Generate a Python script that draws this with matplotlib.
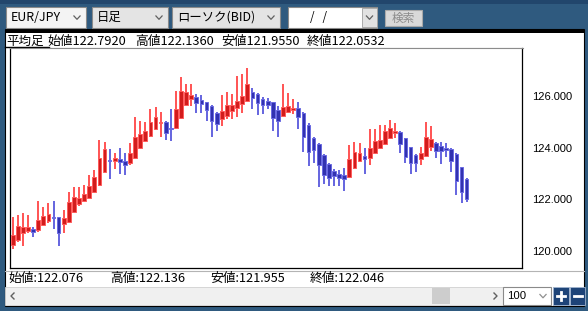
import matplotlib
matplotlib.use("Agg")
import matplotlib.pyplot as plt
from matplotlib.patches import Rectangle

# ---------------- data (heikin-ashi daily candles, EUR/JPY) ----------------
opens = [120.23, 120.43, 120.69, 120.79, 120.86, 120.81, 121.01, 121.17, 121.30, 121.33,
         121.04, 121.13, 121.52, 121.82, 121.95, 122.06, 122.29, 122.56, 123.07, 123.51,
         123.48, 123.55, 123.50, 123.42, 123.59, 124.00, 124.26, 124.45, 124.71, 124.94,
         124.98, 124.77, 124.75, 125.14, 125.65, 125.90, 125.96, 125.85, 125.77, 125.63,
         125.33, 125.10, 125.24, 125.43, 125.55, 125.68, 125.82, 126.15, 126.07, 125.88,
         125.81, 125.76, 125.46, 125.23, 125.39, 125.47, 125.52, 125.35, 124.89, 124.36,
         124.14, 123.73, 123.36, 123.11, 122.98, 122.93, 122.85, 123.20, 123.50, 123.68,
         123.61, 123.78, 124.00, 124.14, 124.36, 124.56, 124.62, 124.36, 124.01, 123.70,
         123.55, 123.68, 124.04, 124.19, 124.06, 123.98, 123.96, 123.75, 123.24, 122.79]
highs = [121.33, 121.39, 121.46, 121.39, 120.94, 121.94, 121.72, 121.87, 121.94, 121.33,
         121.59, 122.29, 122.47, 122.47, 122.56, 122.94, 123.14, 124.29, 124.23, 123.94,
         123.78, 123.98, 123.78, 124.17, 125.20, 125.04, 125.01, 125.50, 125.59, 125.39,
         125.04, 125.50, 126.19, 126.75, 126.47, 126.47, 126.08, 126.04, 125.78, 125.65,
         125.37, 126.04, 126.14, 126.08, 126.77, 126.84, 127.07, 126.32, 126.11, 125.97,
         125.94, 125.78, 125.62, 126.47, 126.11, 125.88, 125.76, 125.37, 124.94, 124.40,
         124.17, 123.76, 123.40, 123.16, 123.14, 123.20, 124.10, 124.23, 124.19, 123.98,
         124.71, 124.72, 124.88, 124.88, 125.07, 124.94, 124.65, 124.39, 124.04, 123.74,
         124.04, 124.99, 124.84, 124.23, 124.21, 124.18, 123.99, 123.78, 123.26, 122.81]
lows = [120.07, 120.36, 120.21, 120.71, 120.55, 120.75, 120.97, 121.10, 120.85, 120.21,
        120.71, 121.10, 121.46, 121.74, 121.90, 122.04, 122.26, 122.53, 123.01, 122.80,
        123.19, 122.97, 122.95, 123.32, 123.55, 123.95, 124.23, 124.43, 124.68, 124.43,
        124.30, 124.26, 124.71, 125.10, 125.61, 125.62, 125.33, 125.35, 125.04, 124.40,
        124.66, 124.84, 125.10, 125.10, 125.18, 125.35, 125.80, 125.51, 125.27, 125.30,
        125.50, 124.66, 124.40, 125.20, 125.33, 125.29, 124.72, 123.84, 123.29, 123.42,
        122.47, 122.59, 122.52, 122.53, 122.52, 122.33, 122.81, 123.16, 123.46, 122.98,
        123.33, 123.76, 123.95, 124.10, 124.32, 124.36, 123.78, 123.42, 122.98, 123.07,
        123.33, 123.65, 123.88, 123.61, 123.37, 123.65, 123.07, 122.17, 121.87, 121.90]
closes = [120.62, 120.98, 120.93, 120.94, 120.75, 121.20, 121.35, 121.42, 121.28, 120.71,
          121.27, 121.89, 122.10, 122.06, 122.21, 122.52, 122.85, 123.59, 123.94, 123.47,
          123.59, 123.45, 123.34, 123.78, 124.41, 124.53, 124.65, 125.00, 125.20, 124.99,
          124.56, 124.73, 125.50, 126.19, 126.15, 126.04, 125.72, 125.68, 125.46, 125.03,
          124.90, 125.41, 125.65, 125.64, 125.81, 126.00, 126.47, 125.93, 125.72, 125.66,
          125.65, 125.14, 125.02, 125.59, 125.60, 125.52, 125.18, 124.40, 123.84, 123.91,
          123.32, 122.95, 122.84, 122.89, 122.84, 122.80, 123.56, 123.84, 123.81, 123.55,
          123.99, 124.26, 124.30, 124.65, 124.77, 124.65, 124.13, 123.65, 123.39, 123.39,
          123.78, 124.40, 124.32, 123.88, 123.88, 123.92, 123.50, 122.71, 122.30, 122.00]

y_ticks = [120, 122, 124, 126]
y_tick_labels = ["120.000", "122.000", "124.000", "126.000"]
n_slots = 100

header_labels = ["始値122.7920", "高値122.1360", "安値121.9550", "終値122.0532"]
footer_labels = ["始値:122.076", "高値:122.136", "安値:121.955", "終値:122.046"]
combo_labels = ["EUR/JPY", "日足", "ローソク(BID)"]

JP = ["Noto Sans CJK JP", "DejaVu Sans"]

# ---------------- figure ----------------
W, H = 588, 311
fig = plt.figure(figsize=(W / 100, H / 100), dpi=100)
fig.patch.set_facecolor("#2f5a7f")

bg = fig.add_axes([0, 0, 1, 1])
bg.set_xlim(0, W)
bg.set_ylim(H, 0)
bg.axis("off")


def rect(x0, y0, x1, y1, fc, ec="none", lw=0.0, z=1):
    bg.add_patch(Rectangle((x0, y0), x1 - x0, y1 - y0, facecolor=fc,
                           edgecolor=ec, linewidth=lw, zorder=z))


def chevron(cx, cy, col="#606060"):
    bg.plot([cx - 3.5, cx, cx + 3.5], [cy - 2, cy + 1.8, cy - 2], color=col,
            lw=0.9, zorder=5, solid_capstyle="butt")


# top dark strip
rect(0, 0, W, 4, "#22466c")

# combos
combo_boxes = [(6, 86, "#f4f4f4"), (92, 168, "#e4e4e4"), (172, 280, "#e4e4e4")]
for (x0, x1, fc), lab in zip(combo_boxes, combo_labels):
    rect(x0, 7, x1, 28, fc, ec="#8a8a8a", lw=0.8, z=2)
    bg.text(x0 + 5, 17.5, lab, family=JP, fontsize=8.9, va="center",
            ha="left", color="#000000", zorder=5)
    chevron(x1 - 9, 17.5)

# date field
rect(288, 7, 377, 28, "#ffffff", ec="#8a8a8a", lw=0.8, z=2)
rect(362, 8, 377, 27, "#e2e2e2", ec="#a0a0a0", lw=0.6, z=3)
chevron(369.5, 17.5)
bg.text(310, 17.5, "/   /", family=JP, fontsize=8.4, va="center", ha="left",
        color="#000000", zorder=5)

# search button (disabled)
rect(385, 10, 422, 26, "#d9d9d9", ec="#a9a9a9", lw=0.8, z=2)
bg.text(403.5, 18, "検索", family=JP, fontsize=8.4, va="center", ha="center",
        color="#8c8c8c", zorder=5)

# main white panel
rect(5, 29, 584, 306, "#ffffff", ec="#000000", lw=0.8, z=1)
rect(5, 30, 584, 33, "#000000", z=2)

# header texts
bg.text(6, 41, "平均足", family=JP, fontsize=9.0, va="center", ha="left",
        color="#000000", zorder=5)
bg.plot([5, 49], [47, 47], color="#000000", lw=1.0, zorder=4)
bg.plot([49, 523], [47.5, 47.5], color="#a0a0a0", lw=0.8, zorder=4)
for x0, lab in zip([47, 135, 221, 307], header_labels):
    bg.text(x0, 41, lab, family=JP, fontsize=9.2, va="center", ha="left",
            color="#000000", zorder=5)

# footer separator + texts
bg.plot([5, 584], [271, 271], color="#b4b4b4", lw=0.8, zorder=4)
for x0, lab in zip([8, 110, 210, 310], footer_labels):
    bg.text(x0, 278.5, lab, family=JP, fontsize=9.2, va="center", ha="left",
            color="#000000", zorder=5)

# scrollbar
rect(5, 287, 503, 305, "#f0f0f0", ec="#d0d0d0", lw=0.6, z=2)
rect(432, 288, 450, 304, "#cdcdcd", z=3)
bg.plot([14, 11, 14], [293, 296, 299], color="#606060", lw=1.0, zorder=5)
bg.plot([494, 497, 494], [293, 296, 299], color="#606060", lw=1.0, zorder=5)

# "100" combo
rect(503, 287, 551, 305, "#ffffff", ec="#8a8a8a", lw=0.8, z=2)
bg.text(507, 296, "100", family=["Liberation Sans Narrow", "Liberation Sans"],
        fontsize=8.2, va="center", ha="left", color="#000000", zorder=5)
chevron(543, 296, "#909090")

# +/- buttons
rect(553, 287, 569, 305, "#1e4478", ec="#9fb4cf", lw=0.6, z=2)
rect(570, 287, 585, 305, "#1e4478", ec="#9fb4cf", lw=0.6, z=2)
bg.plot([557, 565], [296, 296], color="#ffffff", lw=2.0, zorder=5)
bg.plot([561, 561], [292, 300], color="#ffffff", lw=2.0, zorder=5)
bg.plot([573.5, 581.5], [296, 296], color="#ffffff", lw=2.0, zorder=5)

# ---------------- candlestick axes ----------------
px_l, px_r, px_t, px_b = 10, 522, 48, 268
ax = fig.add_axes([px_l / W, (H - px_b) / H, (px_r - px_l) / W, (px_b - px_t) / H])
ax.set_facecolor("#ffffff")
ax.set_zorder(10)

up_body, up_edge, up_wick = "#d21c1c", "#ff5c5c", "#ff2424"
dn_body, dn_edge, dn_wick = "#3232b0", "#6a6ae2", "#3a3ad6"

xs = list(range(len(opens)))
for i, o, h, l, c in zip(xs, opens, highs, lows, closes):
    up = c >= o
    wick = up_wick if up else dn_wick
    ax.vlines(i, l, h, color=wick, lw=1.1, zorder=2)
for i, o, h, l, c in zip(xs, opens, highs, lows, closes):
    up = c >= o
    body_h = max(abs(c - o), 0.05)
    bottom = min(o, c) if abs(c - o) >= 0.05 else (o + c) / 2 - 0.025
    ax.bar(i, body_h, bottom=bottom, width=0.74,
           color=up_body if up else dn_body,
           edgecolor=up_edge if up else dn_edge, linewidth=0.7, zorder=3)

ax.set_xlim(-0.53, n_slots - 0.14)
ax.set_ylim(119.34, 127.86)
ax.set_xticks([])
ax.yaxis.tick_right()
ax.set_yticks(y_ticks)
ax.set_yticklabels(y_tick_labels, family=["Liberation Sans"], fontsize=8.0)
ax.tick_params(axis="y", length=0, pad=7.5, colors="#000000")
for side in ["left", "right", "bottom"]:
    ax.spines[side].set_color("#000000")
    ax.spines[side].set_linewidth(0.9)
ax.spines["top"].set_color("#8c8c8c")
ax.spines["top"].set_linewidth(0.8)

fig.savefig("out.png", dpi=100, facecolor=fig.get_facecolor())
